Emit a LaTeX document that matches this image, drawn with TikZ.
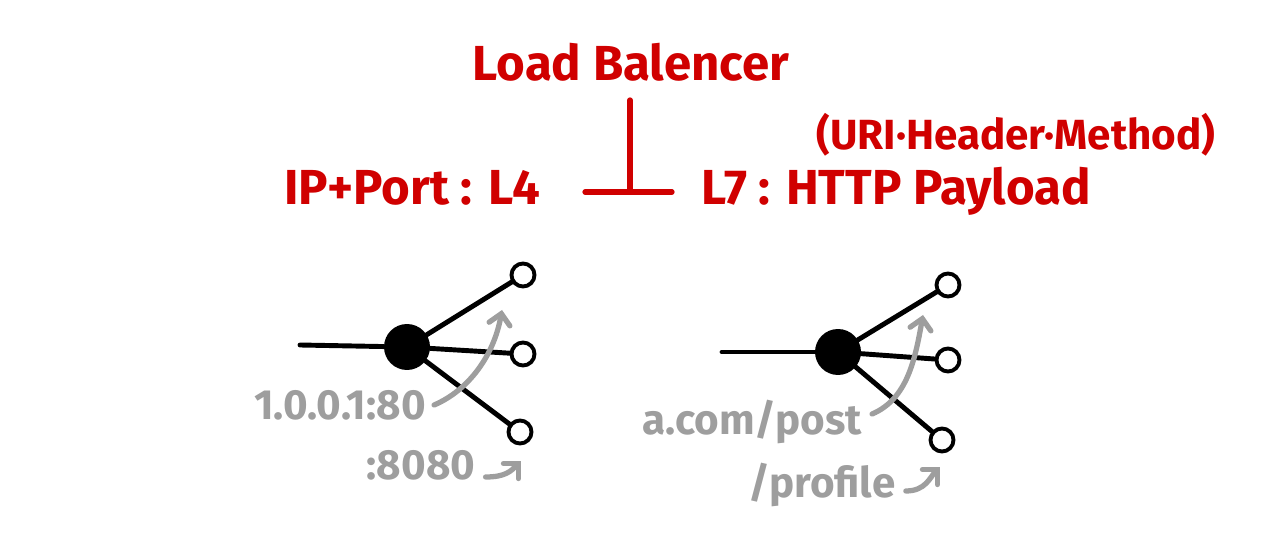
\documentclass[tikz,border=0pt]{standalone}
\usepackage{fontspec}
\setmainfont{Fira Sans}
\usepackage{tikz}
\usetikzlibrary{arrows.meta}
\definecolor{penred}{RGB}{208,0,0}
\definecolor{pengray}{RGB}{158,158,158}

\begin{document}
\begin{tikzpicture}[x=0.02cm, y=0.02cm,
  redtxt/.style={text=penred, inner sep=0pt, font=\fontsize{28}{28}\selectfont\bfseries},
  graytxt/.style={text=pengray, inner sep=0pt, font=\fontsize{24}{24}\selectfont\bfseries},
  redline/.style={draw=penred, line width=3pt, line cap=round},
  link/.style={draw=black, line width=2.8pt, line cap=round},
  hub/.style={circle, fill=black, inner sep=0pt, minimum size=0.92cm},
  leaf/.style={circle, draw=black, fill=white, line width=2.2pt, inner sep=0pt, minimum size=0.46cm},
  note/.style={draw=pengray, line width=3pt, line cap=round, -{Straight Barb[length=6pt, width=12pt, line cap=round]}}]
\useasboundingbox (0,0) rectangle (1280,547);

% titles
\node[redtxt] (lb) at (631,485) {Load Balencer};
\node[redtxt, font=\fontsize{24}{24}\selectfont\bfseries] (uri) at (1016,412) {(URI·Header·Method)};
\node[redtxt] (l4) at (412,359) {IP+Port : L4};
\node[redtxt] (l7) at (896,356) {L7 : HTTP Payload};

% the T between both
\coordinate (tTop) at (630,447);
\coordinate (tBase) at (630,355);
\coordinate (tL) at (585,355);
\coordinate (tR) at (672,355);
\draw[redline] (tTop) -- (tBase);
\draw[redline] (tL) -- (tR);

% L4 side
\coordinate (inA) at (300,202);
\node[hub] (hubA) at (407,200) {};
\node[leaf] (leafA1) at (523,272) {};
\node[leaf] (leafA2) at (523,193) {};
\node[leaf] (leafA3) at (520,115) {};
\draw[link] (inA) -- (hubA);
\draw[link] (hubA) -- (leafA1);
\draw[link] (hubA) -- (leafA2);
\draw[link] (hubA) -- (leafA3);
\node[graytxt] (ipA) at (340,142) {1.0.0.1:80};
\node[graytxt] (portA) at (421,82) {:8080};
\coordinate (tipA1) at (502,237);
\coordinate (tipA2) at (521,86);
\draw[note] (ipA.east) ++(8,0) .. controls +(35,15) and +(-8,-45) .. (tipA1);
\draw[note] (portA.east) ++(10,-12) .. controls +(20,0) and +(-10,-10) .. (tipA2);

% L7 side
\coordinate (inB) at (722,195);
\node[hub] (hubB) at (838,195) {};
\node[leaf] (leafB1) at (948,262) {};
\node[leaf] (leafB2) at (948,187) {};
\node[leaf] (leafB3) at (942,107) {};
\draw[link] (inB) -- (hubB);
\draw[link] (hubB) -- (leafB1);
\draw[link] (hubB) -- (leafB2);
\draw[link] (hubB) -- (leafB3);
\node[graytxt] (urlB) at (752,125) {a.com/post};
\node[graytxt] (pathB) at (822,62) {/profile};
\coordinate (tipB1) at (923,232);
\coordinate (tipB2) at (940,80);
\draw[note] (urlB.east) ++(10,8) .. controls +(35,15) and +(-8,-45) .. (tipB1);
\draw[note] (pathB.east) ++(10,-6) .. controls +(20,0) and +(-10,-10) .. (tipB2);
\end{tikzpicture}
\end{document}
